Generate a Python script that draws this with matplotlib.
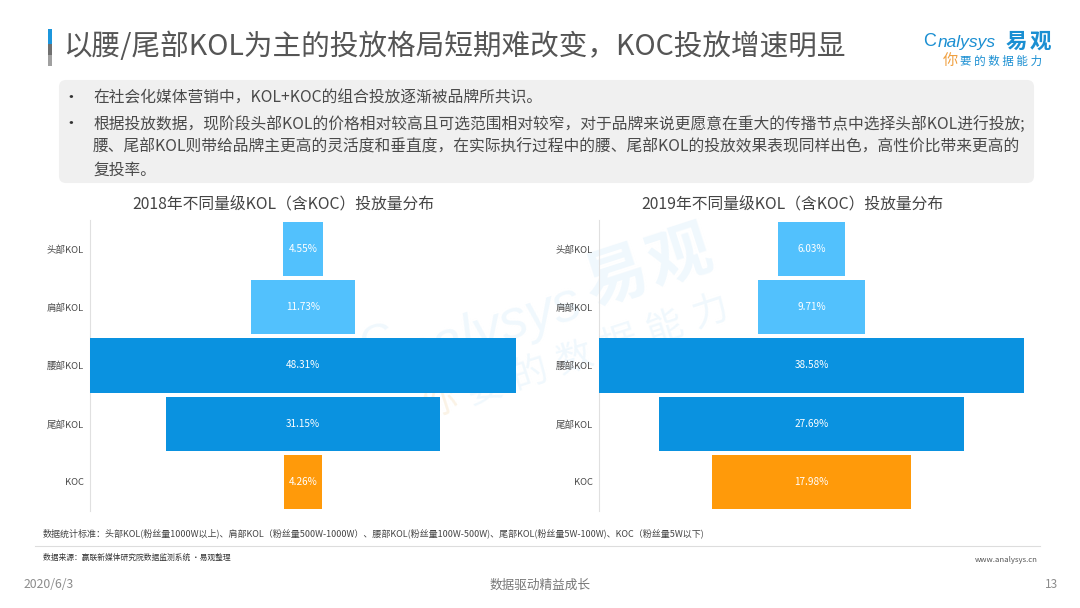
import matplotlib
matplotlib.use("Agg")
import matplotlib.pyplot as plt
import numpy as np
from matplotlib.patches import FancyBboxPatch, Rectangle

plt.rcParams['font.family'] = ['Noto Sans CJK SC', 'DejaVu Sans']

categories = ['头部KOL', '肩部KOL', '腰部KOL', '尾部KOL', 'KOC']
values_2018 = [4.55, 11.73, 48.31, 31.15, 4.26]
values_2019 = [6.03, 9.71, 38.58, 27.69, 17.98]
bar_colors = ['#52C1FD', '#52C1FD', '#0A92E0', '#0A92E0', '#FF9A0A']

title = '以腰/尾部KOL为主的投放格局短期难改变，KOC投放增速明显'
bullets = ['在社会化媒体营销中，KOL+KOC的组合投放逐渐被品牌所共识。',
           '根据投放数据，现阶段头部KOL的价格相对较高且可选范围相对较窄，对于品牌来说更愿意在重大的传播节点中选择头部KOL进行投放;',
           '腰、尾部KOL则带给品牌主更高的灵活度和垂直度，在实际执行过程中的腰、尾部KOL的投放效果表现同样出色，高性价比带来更高的',
           '复投率。']
note = '数据统计标准：头部KOL(粉丝量1000W以上)、肩部KOL（粉丝量500W-1000W）、腰部KOL(粉丝量100W-500W)、尾部KOL(粉丝量5W-100W)、KOC（粉丝量5W以下)'
source = '数据来源：赢联新媒体研究院数据监测系统 ·易观整理'
slogan = '你要的数据能力'

W, H = 1080, 608
fig = plt.figure(figsize=(W/100, H/100), dpi=100)

# page layer in pixel coords
bg = fig.add_axes([0, 0, 1, 1])
bg.set_xlim(0, W)
bg.set_ylim(H, 0)
bg.axis('off')

bg.add_patch(Rectangle((48, 29), 4, 15, color='#1C96DC', lw=0))
bg.add_patch(Rectangle((48, 44), 4, 11, color='#707070', lw=0))
bg.add_patch(Rectangle((48, 55), 4, 11, color='#A0A0A0', lw=0))
bg.text(63, 47.5, title, fontsize=20.6, color='#555555', va='center', ha='left')

bg.add_patch(FancyBboxPatch((60, 81), 973, 101, boxstyle='round,pad=0,rounding_size=6',
                            fc='#F0F0F0', ec='#F0F0F0', lw=1.5))
text_c = '#4A4A4A'
bg.text(71, 98, '•', fontsize=12, color='#333333', va='center', ha='center')
bg.text(71, 124, '•', fontsize=12, color='#333333', va='center', ha='center')
for line, y in zip(bullets, [98, 125, 147, 170]):
    bg.text(93, y, line, fontsize=11.34, color=text_c, va='center', ha='left')

bg.text(283, 204, '2018年不同量级KOL（含KOC）投放量分布', fontsize=11.35, color='#444444',
        va='center', ha='center', weight='medium')
bg.text(792, 204, '2019年不同量级KOL（含KOC）投放量分布', fontsize=11.35, color='#444444',
        va='center', ha='center', weight='medium')

# watermark, sits under the bars
wm = '#F0F8FD'
bg.text(616, 277, '易', fontsize=46, color=wm, rotation=18, va='center', ha='center', weight='bold')
bg.text(680, 257, '观', fontsize=46, color=wm, rotation=18, va='center', ha='center', weight='bold')
bg.text(492, 331, 'nalysys', fontsize=40, color=wm, rotation=18, va='center', ha='center',
        style='italic', family='Liberation Sans')
bg.text(378, 343, 'C', fontsize=34, color=wm, rotation=18, va='center', ha='center', family='Liberation Sans')
for i, ch in enumerate(slogan):
    bg.text(440 + 45*i, 403 - 15*i, ch, fontsize=26, rotation=18, va='center', ha='center',
            color='#FBF3E6' if i == 0 else wm)

# logo
logo_blue = '#1B8FD2'
bg.text(923, 41, 'C', fontsize=13, color=logo_blue, family='Liberation Sans', va='center', ha='left')
bg.text(938, 42, 'nalysys', fontsize=12.5, color=logo_blue, style='italic', family='Liberation Sans',
        va='center', ha='left')
bg.text(1016, 41, '易', fontsize=15.5, color=logo_blue, weight='bold', va='center', ha='center')
bg.text(1040, 41, '观', fontsize=15.5, color=logo_blue, weight='bold', va='center', ha='center')
bg.text(950, 60, slogan[0], fontsize=11, color='#F0A040', va='center', ha='center')
bg.text(960, 61, ' '.join(slogan[1:]), fontsize=8.3, color=logo_blue, va='center', ha='left')


def px_axes(x0, x1, y0, y1):
    return fig.add_axes([x0/W, 1 - y1/H, (x1 - x0)/W, (y1 - y0)/H], facecolor='none')


def pyramid(ax, values, half):
    y = np.arange(len(values))
    v = np.array(values)
    ax.barh(y, v, left=-v/2, height=0.93, color=bar_colors, zorder=3)
    for i, val in enumerate(values):
        ax.text(0, i, '%.2f%%' % val, color='white', fontsize=7.2, va='center', ha='center', zorder=4)
    ax.set_xlim(-half, half)
    ax.set_ylim(len(values) - 0.5, -0.5)
    ax.set_yticks(y)
    ax.set_yticklabels(categories, fontsize=6.8, color='#4A4A4A')
    ax.set_xticks([])
    ax.tick_params(axis='y', length=0, pad=4.5)
    for s in ['top', 'right', 'bottom']:
        ax.spines[s].set_visible(False)
    ax.spines['left'].set_color('#E0E0E0')
    ax.spines['left'].set_linewidth(0.8)


ax1 = px_axes(90, 516, 220, 511)
pyramid(ax1, values_2018, 213/8.8)
ax2 = px_axes(599, 1024, 220, 511)
pyramid(ax2, values_2019, 212.5/11.02)

# footer
bg.text(43, 533, note, fontsize=6.5, color='#444444', va='center', ha='left')
bg.plot([35, 1040], [545.5, 545.5], color='#DDDDDD', lw=0.8)
bg.text(43, 558, source, fontsize=5.6, color='#333333', va='center', ha='left')
bg.text(1038, 560, 'www.analysys.cn', fontsize=5.6, color='#555555', va='center', ha='right')
bg.text(24, 585, '2020/6/3', fontsize=8.8, color='#8C8C8C', va='center', ha='left')
bg.text(540, 585, '数据驱动精益成长', fontsize=9.1, color='#777777', va='center', ha='center')
bg.text(1058, 585, '13', fontsize=8.5, color='#8C8C8C', va='center', ha='right')

fig.savefig('out.png', dpi=100)
